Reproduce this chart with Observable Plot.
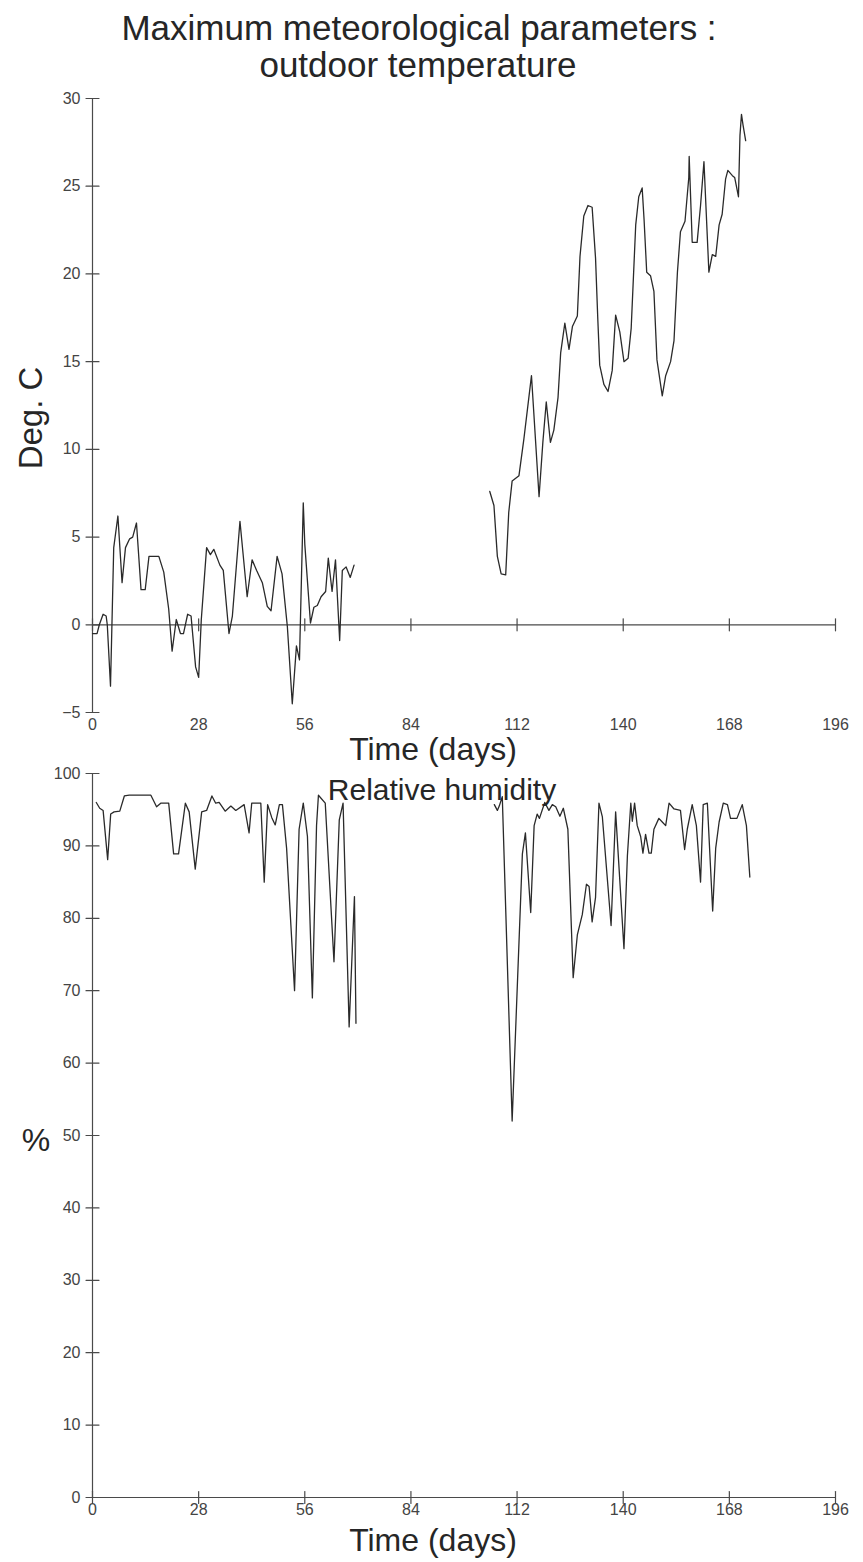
<!DOCTYPE html>
<html>
<head>
<meta charset="utf-8">
<script src="https://cdn.jsdelivr.net/npm/d3@7"></script>
<script src="https://cdn.jsdelivr.net/npm/@observablehq/plot@0.6"></script>
<style>
  body { margin: 0; background: #fff; }
  #page { position: relative; width: 863px; height: 1562px; overflow: hidden;
          font-family: "Liberation Sans", Arial, Helvetica, sans-serif; color: #262626; }
  .lbl { position: absolute; white-space: nowrap; transform: translate(-50%, -50%); line-height: 1; }
  .chart { position: absolute; left: 0; }
</style>
</head>
<body>
<div id="page"></div>
<script>
// Shared time axis (days)
const dayTicks = [0, 28, 56, 84, 112, 140, 168, 196];

// Outdoor temperature (deg C), two recording periods
const tempDays1 = [0, 1.2, 1.8, 2.8, 3.6, 3.9, 4.75, 5.6, 6.7, 7.8, 8.7, 9.8, 10.6, 11.6, 12.8, 13.9, 14.9, 17.5, 18.8, 20.1, 21, 22.1, 23.2, 24, 25.1, 26, 27.2, 28, 28.7, 30.1, 31.1, 32, 33.6, 34.5, 36, 36.9, 38.9, 40.8, 42.1, 43.3, 44.8, 46.1, 47.1, 48.7, 50, 51.4, 52.7, 53.8, 54.6, 55.6, 56, 57.5, 58.4, 59.3, 60.3, 61.5, 62.2, 63.2, 64.1, 65.2, 65.9, 66.9, 68, 69];
const tempValues1 = [-0.5, -0.5, 0, 0.6, 0.5, 0, -3.5, 4.4, 6.2, 2.4, 4.4, 4.9, 5.0, 5.8, 2.0, 2.0, 3.9, 3.9, 3.0, 0.9, -1.5, 0.3, -0.5, -0.5, 0.6, 0.5, -2.4, -3.0, 0.3, 4.4, 4.0, 4.3, 3.4, 3.1, -0.5, 0.5, 5.9, 1.6, 3.7, 3.1, 2.4, 1.05, 0.8, 3.9, 2.9, -0.1, -4.5, -1.2, -2.0, 6.95, 4.6, 0.1, 1.0, 1.1, 1.6, 1.9, 3.8, 1.9, 3.7, -0.9, 3.1, 3.3, 2.7, 3.4];
const tempDays2 = [104.8, 105.9, 106.8, 107.8, 109, 109.8, 110.7, 112.5, 113.8, 115.8, 117.8, 118.8, 119.7, 120.8, 121.7, 122.8, 123.5, 124.6, 125.7, 126.6, 127.9, 128.6, 129.6, 130.7, 131.8, 132.7, 133.3, 133.8, 134.9, 136, 137.1, 138, 139.1, 140.2, 141.3, 142.1, 143.3, 144.1, 145, 145.5, 146.2, 147.2, 148.1, 148.9, 150.3, 151.2, 152.5, 153.4, 154.3, 155.1, 156.3, 157.3, 157.4, 158.2, 159.5, 160.4, 161.3, 162.6, 163.5, 164.4, 165.3, 166.1, 167, 167.6, 168.8, 169.4, 170.4, 170.8, 171.2, 171.6, 172.3];
const tempValues2 = [7.6, 6.8, 3.9, 2.9, 2.85, 6.4, 8.2, 8.5, 10.6, 14.2, 7.3, 10.4, 12.7, 10.4, 11.1, 12.95, 15.5, 17.2, 15.7, 17.0, 17.6, 21.0, 23.3, 23.9, 23.8, 20.9, 17.4, 14.8, 13.7, 13.3, 14.5, 17.65, 16.7, 15.0, 15.2, 16.9, 22.8, 24.4, 24.9, 23.1, 20.1, 19.9, 19.0, 15.1, 13.05, 14.2, 15.0, 16.2, 20.1, 22.4, 23.0, 25.5, 26.7, 21.8, 21.8, 23.9, 26.4, 20.1, 21.1, 21.0, 22.8, 23.4, 25.4, 25.9, 25.6, 25.5, 24.4, 27.9, 29.1, 28.5, 27.6];
const tempTicks = [-5, 0, 5, 10, 15, 20, 25, 30];

// Relative humidity (%), same two periods
const humDays1 = [1, 1.9, 2.8, 4, 4.8, 5.7, 7.2, 8.4, 9.7, 15.4, 16.9, 18, 20.1, 21.4, 22.7, 24.5, 25.5, 27.1, 28.8, 30.1, 31.5, 32.5, 33.4, 35, 36.5, 37.8, 40, 41.3, 42, 44.4, 45.3, 46.2, 47.3, 48.2, 49.3, 50.1, 51.2, 53.3, 54.5, 55.6, 56.7, 58, 59.1, 59.6, 61.4, 63.7, 65.1, 66.1, 67.7, 69.1, 69.5];
const humValues1 = [96.0, 95.2, 94.9, 88.1, 94.4, 94.7, 94.8, 96.9, 97.0, 97.0, 95.4, 95.9, 95.9, 88.9, 88.9, 95.9, 94.7, 86.8, 94.7, 94.9, 96.9, 95.9, 96.0, 94.8, 95.5, 94.9, 95.7, 91.8, 95.9, 95.9, 85.0, 95.7, 93.9, 92.9, 95.7, 95.7, 89.7, 70.0, 92.3, 95.9, 91.3, 69.0, 92.8, 97.0, 95.9, 74.0, 93.6, 95.9, 65.0, 83.0, 65.5];
const humDays2 = [106, 106.8, 107.3, 108.1, 109, 110.7, 113.4, 114.2, 115.6, 116.5, 117.3, 117.9, 119.3, 120.4, 121.3, 122.2, 123.3, 124.2, 125.4, 126.8, 127.9, 129.2, 130.3, 131, 131.8, 132.7, 133.6, 134.5, 136.8, 138, 140.2, 141.1, 142, 142.4, 143, 143.7, 144.6, 145.2, 145.9, 146.8, 147.4, 148.1, 149.4, 150.3, 151.2, 152.1, 153.4, 155.1, 156.2, 156.9, 158.2, 159.3, 160.4, 161.1, 162.2, 163.6, 164.4, 165.3, 166.4, 167.5, 168.3, 170, 171.4, 172.5, 173.4];
const humValues2 = [95.7, 94.9, 95.5, 96.8, 81.3, 52.0, 88.9, 91.8, 80.8, 92.8, 94.4, 93.8, 96.0, 94.9, 95.7, 95.4, 94.1, 95.2, 92.3, 71.8, 77.7, 80.5, 84.7, 84.4, 79.5, 82.9, 95.9, 94.0, 79.0, 94.7, 75.8, 88.6, 95.9, 93.4, 95.9, 92.8, 91.3, 89.0, 91.6, 89.0, 89.0, 92.3, 93.8, 93.3, 92.8, 95.9, 95.1, 94.9, 89.5, 92.3, 95.7, 92.8, 85.0, 95.7, 95.9, 81.0, 89.7, 93.3, 95.9, 95.7, 93.8, 93.8, 95.7, 92.8, 85.7];
const humTicks = [0, 10, 20, 30, 40, 50, 60, 70, 80, 90, 100];

// Build tidy rows; each recording period is its own line segment
function rows(daysList, valuesList) {
  return daysList.flatMap((days, s) => days.map((day, i) => ({day, value: valuesList[s][i], period: s})));
}
const tempRows = rows([tempDays1, tempDays2], [tempValues1, tempValues2]);
const humRows = rows([humDays1, humDays2], [humValues1, humValues2]);

const ink = "#2a2a2a";
const axisInk = "#4a4a4a";
const tickFont = '"Liberation Sans Narrow", "Liberation Sans", Arial, sans-serif';

// A straight tick stroke, centred on its anchor point
const tickShape = { draw(context, l) { context.moveTo(0, 0); context.lineTo(0, -l); } };

function chart({yDomain, yTicks, rowsData, height, marginTop, marginBottom}) {
  return Plot.plot({
    width: 863,
    height,
    marginTop,
    marginBottom,
    marginLeft: 92,
    marginRight: 28,
    style: {fontFamily: tickFont, fontSize: "16px", color: "#444", background: "transparent", overflow: "visible"},
    x: {domain: [0, 196], ticks: dayTicks, label: null},
    y: {domain: yDomain, ticks: yTicks, label: null},
    marks: [
      Plot.ruleX([0], {stroke: axisInk, strokeWidth: 1.2}),
      Plot.ruleY([0], {stroke: axisInk, strokeWidth: 1.2}),
      Plot.vector(dayTicks, {x: d => d, y: 0, length: 12, rotate: 0, anchor: "middle", shape: tickShape, stroke: axisInk, strokeWidth: 1.2}),
      Plot.vector(yTicks, {x: 0, y: d => d, length: 13, rotate: 90, anchor: "middle", shape: tickShape, stroke: axisInk, strokeWidth: 1.2}),
      Plot.axisX({anchor: "bottom", ticks: dayTicks, tickSize: 0, tickPadding: 6, label: null}),
      Plot.axisY({anchor: "left", ticks: yTicks, tickSize: 0, tickPadding: 12, label: null}),
      Plot.line(rowsData, {x: "day", y: "value", z: "period", stroke: ink, strokeWidth: 1.3, strokeLinejoin: "round"})
    ]
  });
}

const page = document.getElementById("page");

function label(text, x, y, size, extra = "") {
  const d = document.createElement("div");
  d.className = "lbl";
  d.textContent = text;
  d.style.left = x + "px";
  d.style.top = y + "px";
  d.style.fontSize = size + "px";
  if (extra) d.style.cssText += extra;
  page.appendChild(d);
  return d;
}

// Temperature panel
const tempChart = chart({yDomain: [-5, 30], yTicks: tempTicks, rowsData: tempRows, height: 670, marginTop: 18, marginBottom: 38});
tempChart.classList.add("chart");
tempChart.style.top = "80px";
page.appendChild(tempChart);

// Humidity panel
const humChart = chart({yDomain: [0, 100], yTicks: humTicks, rowsData: humRows, height: 790, marginTop: 18, marginBottom: 48});
humChart.classList.add("chart");
humChart.style.top = "755px";
page.appendChild(humChart);

// Titles and axis labels
label("Maximum meteorological parameters :", 419, 27, 35);
label("outdoor temperature", 418, 64, 35);
label("Deg. C", 30, 418, 33, "transform: translate(-50%, -50%) rotate(-90deg);");
label("Time (days)", 433, 749, 32);
label("Relative humidity", 442, 790, 30);
label("%", 36, 1140, 32);
label("Time (days)", 433, 1540, 32);
</script>
</body>
</html>
